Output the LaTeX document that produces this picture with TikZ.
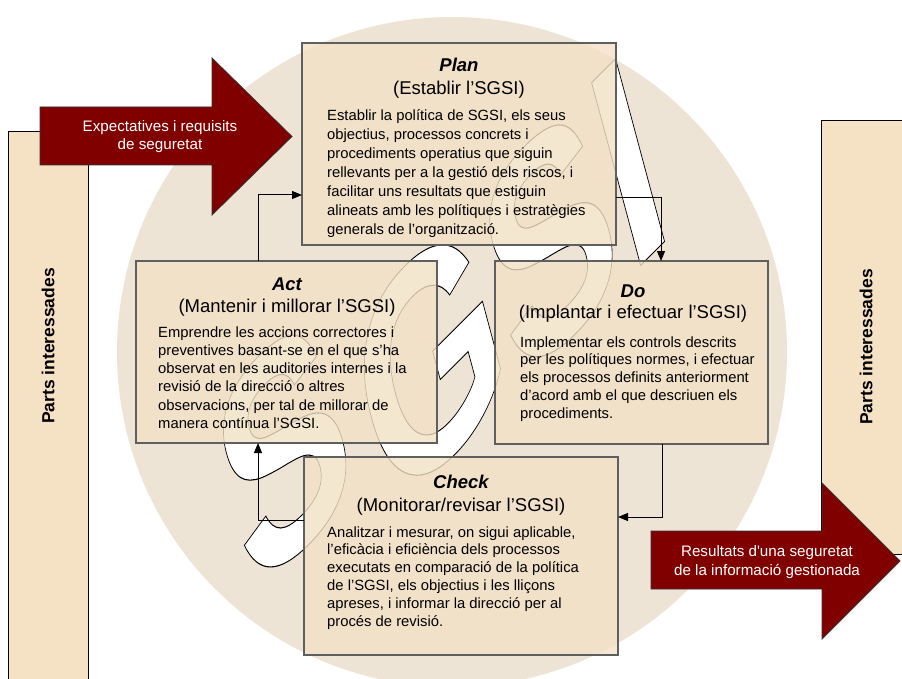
\documentclass[tikz,border=0pt]{standalone}
\usepackage{fontspec}
\setmainfont{Liberation Sans}
\usetikzlibrary{arrows.meta}

\definecolor{ringfill}{RGB}{237,228,214}
\definecolor{boxfill}{RGB}{242,225,197}
\definecolor{sidefill}{RGB}{245,225,195}
\definecolor{arrowred}{RGB}{128,0,0}
\definecolor{boxline}{RGB}{95,95,95}

% glyphs filled with the current colour and stroked in black
\newcommand\outlinedtext[1]{%
  \special{pdf:literal direct 2 Tr 0.35 w 0 0 0 RG}#1\special{pdf:literal direct 0 Tr}}

\begin{document}
\begin{tikzpicture}[x=1pt,y=-1pt,
  procbox/.style={draw=boxline, line width=1.3pt, fill=boxfill, fill opacity=0.8,
    inner sep=0pt, outer sep=0pt, anchor=north west},
  sidebox/.style={draw=black, line width=0.8pt, fill=sidefill},
  boxtitle/.style={font=\fontsize{18.5}{22}\selectfont\bfseries\itshape, anchor=base, inner sep=0pt},
  boxsub/.style={font=\fontsize{18.5}{22}\selectfont, anchor=base, inner sep=0pt},
  boxbody/.style={anchor=base west, inner sep=0pt},
  sidelabel/.style={rotate=90, font=\fontsize{17.5}{20}\selectfont\bfseries, inner sep=0pt},
  redarrow/.style={fill=arrowred, draw=black!80, line width=0.8pt},
  arrowtext/.style={text=white, font=\fontsize{15.2}{18.3}\selectfont, align=center, anchor=base, inner sep=0pt},
  conn/.style={line width=1pt, -{Triangle[length=10pt,width=8pt]}},
  letters/.style={font=\fontsize{100}{100}\selectfont\bfseries, inner sep=0pt, anchor=base west,
    cm={1.662,1.662,-0.712,2.656,(0,0)}}
]
\useasboundingbox (0,0) rectangle (902,679);

% background disc
\fill[ringfill] (452,352) circle (335pt);

% large outlined lettering behind the cycle
\begin{scope}[shift={(252,598)}]
  \node[letters, text=white] (sgsifirst) at (0,0) {\outlinedtext{S}};
\end{scope}
\begin{scope}[shift={(389,517)}]
  \node[letters, text=white] (sgsirest) at (0,0) {\outlinedtext{GSI}};
\end{scope}

% the four process boxes
\node[procbox, minimum width=314pt, minimum height=202pt] (plan) at (302,43) {};
\node[procbox, minimum width=301pt, minimum height=182pt] (act) at (136,261) {};
\node[procbox, minimum width=273pt, minimum height=183pt] (do) at (495,261) {};
\node[procbox, minimum width=314pt, minimum height=198pt] (check) at (304,457) {};

% Plan
\node[boxtitle] (plant) at (459,72) {Plan};
\node[boxsub] (plans) at (459,95) {(Establir l’SGSI)};
\node[boxbody] (planb) at (327,121) {\parbox[t]{290pt}{\fontsize{14.8}{18.9}\selectfont\raggedright
Establir la política de SGSI, els seus\\
objectius, processos concrets i\\
procediments operatius que siguin\\
rellevants per a la gestió dels riscos, i\\
facilitar uns resultats que estiguin\\
alineats amb les polítiques i estratègies\\
generals de l’organització.}};

% Act
\node[boxtitle] (actt) at (287,290) {Act};
\node[boxsub] (acts) at (287,312) {(Mantenir i millorar l’SGSI)};
\node[boxbody] (actb) at (158,337) {\parbox[t]{290pt}{\fontsize{14.8}{18.3}\selectfont\raggedright
Emprendre les accions correctores i\\
preventives basant-se en el que s’ha\\
observat en les auditories internes i la\\
revisió de la direcció o altres\\
observacions, per tal de millorar de\\
manera contínua l’SGSI.}};

% Do
\node[boxtitle] (dot) at (633,297) {Do};
\node[boxsub] (dos) at (633,318) {(Implantar i efectuar l’SGSI)};
\node[boxbody] (dob) at (520,347) {\parbox[t]{260pt}{\fontsize{14.8}{17.9}\selectfont\raggedright
Implementar els controls descrits\\
per les polítiques normes, i efectuar\\
els processos definits anteriorment\\
d’acord amb el que descriuen els\\
procediments.}};

% Check
\node[boxtitle] (checkt) at (461,488) {Check};
\node[boxsub] (checks) at (461,511) {(Monitorar/revisar l’SGSI)};
\node[boxbody] (checkb) at (327,537) {\parbox[t]{290pt}{\fontsize{14.8}{17.9}\selectfont\raggedright
Analitzar i mesurar, on sigui aplicable,\\
l’eficàcia i eficiència dels processos\\
executats en comparació de la política\\
de l’SGSI, els objectius i les lliçons\\
apreses, i informar la direcció per al\\
procés de revisió.}};

% cycle connectors
\draw[conn] ([yshift=-54pt]plan.east) -| ([xshift=29.5pt]do.north);
\draw[conn] ([xshift=30.5pt]do.south) |- ([yshift=39pt]check.east);
\draw[conn] ([yshift=36pt]check.west) -| ([xshift=-28.5pt]act.south);
\draw[conn] ([xshift=-28.5pt]act.north) |- ([yshift=-51pt]plan.west);

% interested parties
\draw[sidebox] (8,131) rectangle (88,700);
\node[sidelabel] (leftparts) at (48,346) {Parts interessades};
\draw[sidebox] (821,120) rectangle (912,554);
\node[sidelabel] (rightparts) at (866,347) {Parts interessades};

% input and output arrows
\draw[redarrow] (40,107) -- (212,107) -- (212,58) -- (292,136.5) -- (212,215) -- (212,165) -- (40,165) -- cycle;
\node[arrowtext] (inarrow) at (160,150) {Expectatives i requisits\\de seguretat};

\draw[redarrow] (651,531) -- (822,531) -- (822,483) -- (900,561) -- (822,639) -- (822,589) -- (651,589) -- cycle;
\node[arrowtext] (outarrow) at (767,575) {Resultats d\textquotesingle una seguretat\\de la informació gestionada};

\end{tikzpicture}
\end{document}
